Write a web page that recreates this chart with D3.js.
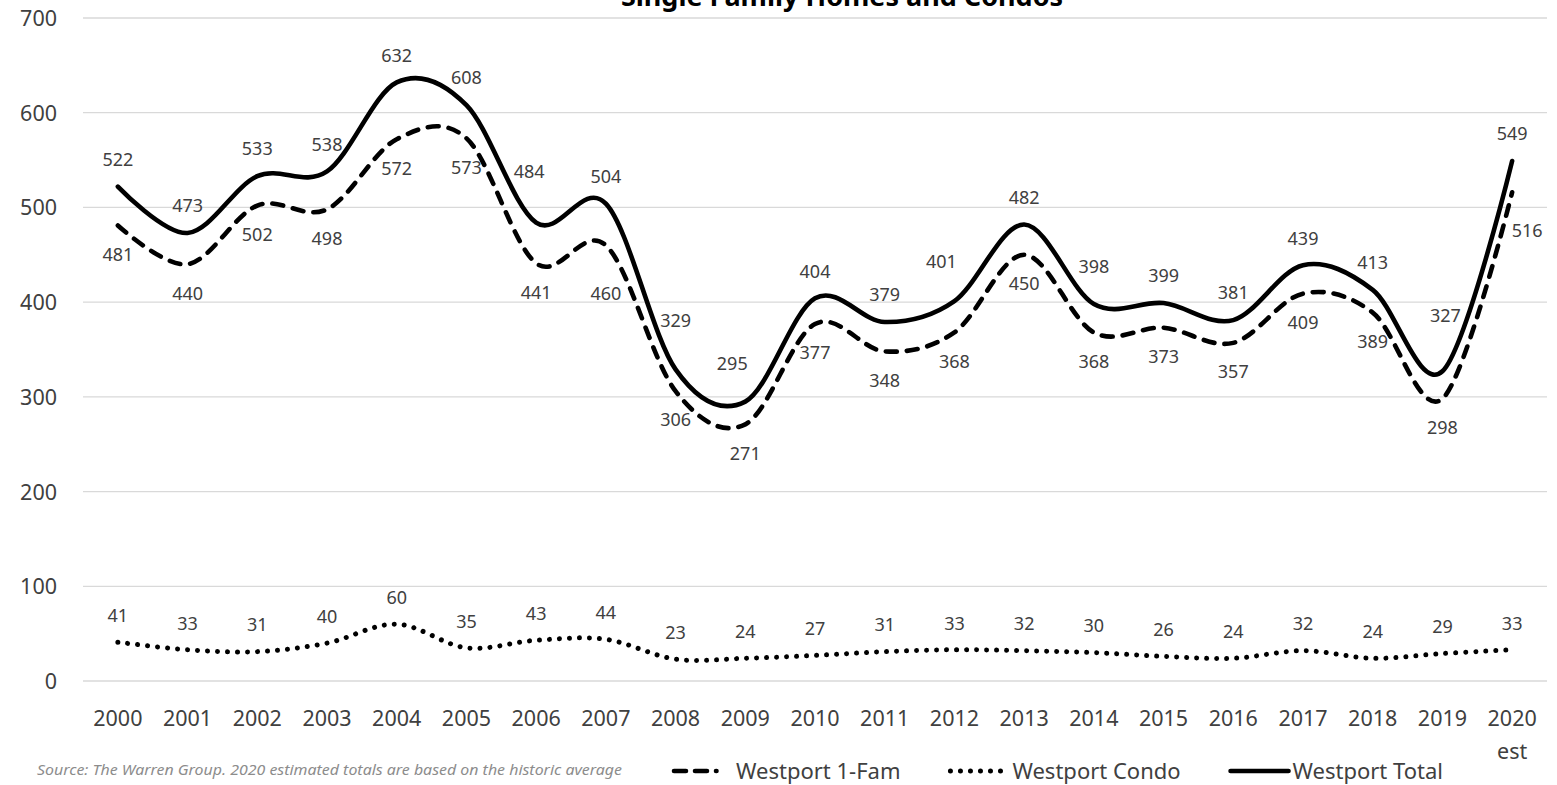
<!DOCTYPE html>
<html>
<head>
<meta charset="utf-8">
<script src="https://cdn.jsdelivr.net/npm/d3@7"></script>
<style>
  html, body { margin: 0; padding: 0; background: #ffffff; }
  svg { display: block; }
</style>
</head>
<body>
<svg id="chart" width="1557" height="785"></svg>
<script>
// ---- data ----
const years = ["2000","2001","2002","2003","2004","2005","2006","2007","2008","2009","2010","2011","2012","2013","2014","2015","2016","2017","2018","2019","2020"];
const yearSub = ["","","","","","","","","","","","","","","","","","","","","est"];
const westportTotal = [522,473,533,538,632,608,484,504,329,295,404,379,401,482,398,399,381,439,413,327,549];
const westport1Fam  = [481,440,502,498,572,573,441,460,306,271,377,348,368,450,368,373,357,409,389,298,516];
const westportCondo = [41,33,31,40,60,35,43,44,23,24,27,31,33,32,30,26,24,32,24,29,33];
const yTicks = [0,100,200,300,400,500,600,700];
const seriesNames = ["Westport 1-Fam","Westport Condo","Westport Total"];
const titleText = "Single Family Homes and Condos";
const sourceText = "Source: The Warren Group. 2020 estimated totals are based on the historic average";

// ---- layout (label nudges in px, separate from data) ----
const totalLabelNudge = {6:[-7,-24], 8:[0,-22], 9:[-13,-11], 12:[-13,-12], 14:[0,-10], 19:[3,-29]};
const famLabelNudge = {7:[0,19], 20:[15,9]};

const FONT = "'Noto Sans', 'Open Sans', sans-serif";
const TXT = "#404040";
const svg = d3.select("#chart");

const plot = {left: 83, right: 1547, top: 18, bottom: 681};

const x = d3.scaleBand().domain(years).range([plot.left, plot.right]).paddingInner(0).paddingOuter(0);
const xc = d => x(d) + x.bandwidth() / 2;
const y = d3.scaleLinear().domain([0, 700]).range([plot.bottom, plot.top]);

// gridlines
svg.append("g").selectAll("line").data(yTicks).join("line")
  .attr("x1", plot.left).attr("x2", plot.right)
  .attr("y1", d => y(d)).attr("y2", d => y(d))
  .attr("stroke", "#d9d9d9").attr("stroke-width", 1.3);

// y axis
const yAxis = d3.axisLeft(y).tickValues(yTicks).tickSize(0).tickPadding(0);
const gy = svg.append("g").attr("transform", `translate(57,0)`).call(yAxis);
gy.select(".domain").remove();
gy.selectAll("text").attr("font-family", FONT).attr("font-size", 21.5).attr("fill", TXT)
  .attr("text-anchor", "end").attr("dy", "0.35em").attr("x", 0);

// x axis
const xAxis = d3.axisBottom(x).tickSize(0).tickPadding(0);
const gx = svg.append("g").attr("transform", `translate(0,${plot.bottom})`).call(xAxis);
gx.select(".domain").remove();
gx.selectAll("text").attr("font-family", FONT).attr("font-size", 21.5).attr("fill", TXT)
  .attr("y", 37).attr("dy", "0.35em");
gx.selectAll(".tick").append("text")
  .text((d, i) => yearSub[i])
  .attr("font-family", FONT).attr("font-size", 21.5).attr("fill", TXT)
  .attr("text-anchor", "middle").attr("y", 70).attr("dy", "0.35em");

// lines
const curve = d3.curveCardinal.tension(0);
const lineGen = d3.line().x((d, i) => xc(years[i])).y(d => y(d)).curve(curve);

const styles = {
  fam:   {dash: "11 10", legendDash: "12 9 12 9 0.5 30", width: 4.6},
  condo: {dash: "0.01 10", legendDash: "0.01 10", width: 5},
  total: {dash: null, legendDash: null, width: 4.6}
};

function drawLine(data, st) {
  svg.append("path").datum(data)
    .attr("d", lineGen)
    .attr("fill", "none").attr("stroke", "#000")
    .attr("stroke-width", st.width)
    .attr("stroke-linecap", "round").attr("stroke-linejoin", "round")
    .attr("stroke-dasharray", st.dash);
}
drawLine(westportCondo, styles.condo);
drawLine(westport1Fam, styles.fam);
drawLine(westportTotal, styles.total);

// labels
function drawLabels(data, baseDy, nudge) {
  svg.append("g").selectAll("text").data(data).join("text")
    .attr("x", (d, i) => xc(years[i]) + (nudge[i] ? nudge[i][0] : 0))
    .attr("y", (d, i) => y(d) + baseDy + (nudge[i] ? nudge[i][1] : 0))
    .attr("dy", "0.35em")
    .attr("text-anchor", "middle")
    .attr("font-family", FONT).attr("font-size", 18).attr("fill", TXT)
    .text(d => d);
}
drawLabels(westportTotal, -27, totalLabelNudge);
drawLabels(westport1Fam, 29, famLabelNudge);
drawLabels(westportCondo, -26.5, {});

// title (partially cut at top, as in the reference)
svg.append("text").attr("x", 842).attr("y", 6)
  .attr("text-anchor", "middle")
  .attr("font-family", FONT).attr("font-weight", "bold").attr("font-size", 27)
  .attr("fill", "#000").text(titleText);

// source note
svg.append("text").attr("x", 37).attr("y", 770).attr("dy", "0.35em")
  .attr("font-family", FONT).attr("font-style", "italic").attr("font-size", 15)
  .attr("textLength", 585).attr("lengthAdjust", "spacingAndGlyphs")
  .attr("fill", "#8c8c8c").text(sourceText);

// legend
const legendY = 771;
const legendStyles = [styles.fam, styles.condo, styles.total];
const sampleW = 60, sampleGap = 3;
const lg = svg.append("g");
const items = seriesNames.map((name, i) => {
  const g = lg.append("g");
  g.append("line").attr("x1", 2).attr("x2", sampleW).attr("y1", legendY).attr("y2", legendY)
    .attr("stroke", "#000").attr("stroke-width", legendStyles[i].width)
    .attr("stroke-linecap", "round").attr("stroke-dasharray", legendStyles[i].legendDash);
  const t = g.append("text").attr("x", sampleW + sampleGap + 1).attr("y", legendY).attr("dy", "0.35em")
    .attr("font-family", FONT).attr("font-size", 22).attr("fill", TXT).text(name);
  return {g, w: sampleW + sampleGap + 1 + t.node().getComputedTextLength()};
});
const legLeft = 672, legRight = 1443;
const totalW = d3.sum(items, d => d.w);
const gap = (legRight - legLeft - totalW) / (items.length - 1);
let cx = legLeft;
items.forEach(it => { it.g.attr("transform", `translate(${cx},0)`); cx += it.w + gap; });
</script>
</body>
</html>
